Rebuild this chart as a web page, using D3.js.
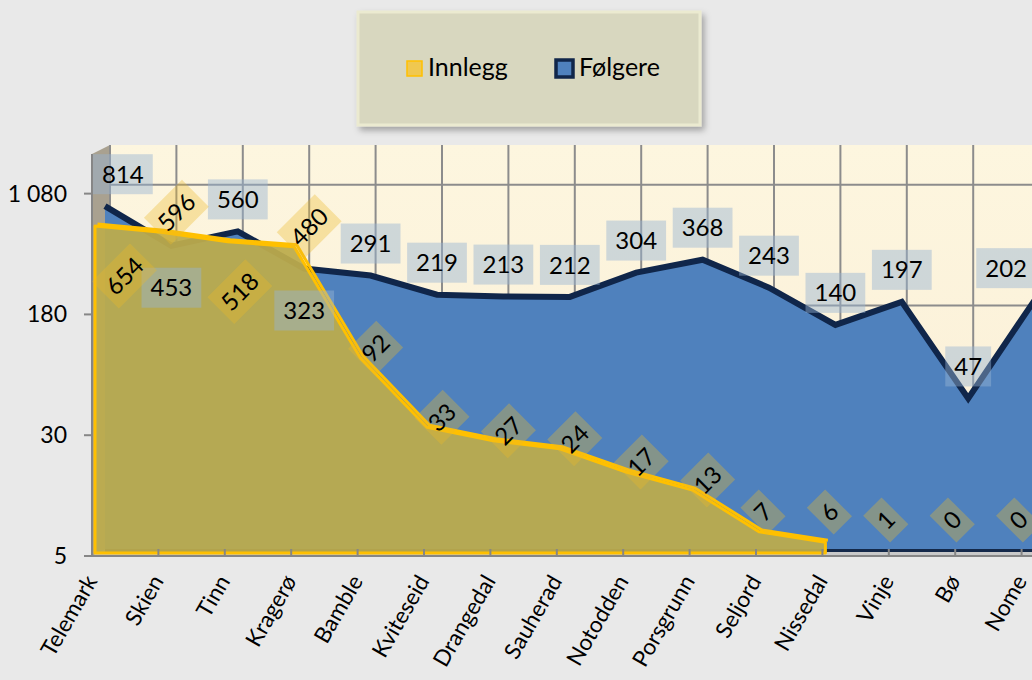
<!DOCTYPE html>
<html>
<head>
<meta charset="utf-8">
<script src="https://cdn.jsdelivr.net/npm/d3@7"></script>
<style>
  body { margin: 0; background: #e9e9e9; }
  svg { display: block; font-family: Lato, "Open Sans", sans-serif; }
</style>
</head>
<body>
<svg id="chart" width="1032" height="680"></svg>
<script>
// data
var categories = ["Telemark", "Skien", "Tinn", "Kragerø", "Bamble", "Kviteseid", "Drangedal",
                  "Sauherad", "Notodden", "Porsgrunn", "Seljord", "Nissedal", "Vinje", "Bø", "Nome"];
var innlegg = [654, 596, 518, 480, 92, 33, 27, 24, 17, 13, 7, 6, 1, 0, 0];
var folgere = [814, 453, 560, 323, 291, 219, 213, 212, 304, 368, 243, 140, 197, 47, 202];
var yTicks = [5, 30, 180, 1080];
var seriesNames = ["Innlegg", "Følgere"];

var W = 1032, H = 680;
var left = 92, floorY = 556, topY = 154;
var step = 66.4;
var back = {dx: 18, dy: -9};   // depth of the back wall
var blueOff = {dx: 13, dy: -6.5};
var yellowOff = {dx: 3, dy: -1.5};

var svg = d3.select("#chart");

var x = d3.scalePoint()
    .domain(categories)
    .range([left, left + step * (categories.length - 1)]);

var y = d3.scaleLog()
    .base(6)
    .domain([5, 1944])
    .range([floorY, topY]);

var fmt = d3.formatLocale({decimal: ",", thousands: "\u00a0", grouping: [3], currency: ["", " kr"]}).format(",d");

var defs = svg.append("defs");
var sh = defs.append("filter").attr("id", "shadow").attr("x", "-10%").attr("y", "-10%").attr("width", "130%").attr("height", "140%");
sh.append("feDropShadow").attr("dx", 3).attr("dy", 4).attr("stdDeviation", 3)
  .attr("flood-color", "#000").attr("flood-opacity", 0.3);
var wallGrad = defs.append("linearGradient").attr("id", "wall").attr("x1", 0).attr("y1", 0).attr("x2", 0).attr("y2", 1);
wallGrad.append("stop").attr("offset", "0%").attr("stop-color", "#fdf6df");
wallGrad.append("stop").attr("offset", "100%").attr("stop-color", "#faeed6");

svg.append("rect").attr("width", W).attr("height", H).attr("fill", "#e9e9e9");

// back wall, side wall, floor
svg.append("rect")
    .attr("x", left + back.dx).attr("y", topY + back.dy)
    .attr("width", W - left).attr("height", floorY - topY)
    .attr("fill", "url(#wall)");

svg.append("polygon")
    .attr("points", [[left, topY], [left + back.dx, topY + back.dy],
                     [left + back.dx, floorY + back.dy], [left, floorY]].join(" "))
    .attr("fill", "#a9a190");

svg.append("polygon")
    .attr("points", [[left, floorY], [left + back.dx, floorY + back.dy],
                     [W + 40, floorY + back.dy], [W + 40, floorY]].join(" "))
    .attr("fill", "#c9c9c9");

// grid on the back wall
var grid = svg.append("g").attr("stroke", "#8c8c8c").attr("stroke-width", 2);
grid.selectAll(".vg").data(categories).enter().append("line")
    .attr("x1", function(d) { return x(d) + back.dx; })
    .attr("x2", function(d) { return x(d) + back.dx; })
    .attr("y1", topY + back.dy).attr("y2", floorY + back.dy);
grid.selectAll(".hg").data(yTicks.slice(1)).enter().append("line")
    .attr("x1", left + back.dx).attr("x2", W + 40)
    .attr("y1", function(d) { return y(d) + back.dy; })
    .attr("y2", function(d) { return y(d) + back.dy; });

// Følgere (back series)
var blueArea = d3.area()
    .x(function(d, i) { return x(categories[i]) + blueOff.dx; })
    .y0(floorY + blueOff.dy)
    .y1(function(d) { return y(d) + blueOff.dy; });
var blueLine = d3.line()
    .x(function(d, i) { return x(categories[i]) + blueOff.dx; })
    .y(function(d) { return y(d) + blueOff.dy; });

svg.append("path").datum(folgere)
    .attr("d", blueArea)
    .attr("fill", "#4f81bd");
svg.append("path").datum(folgere)
    .attr("d", blueLine)
    .attr("fill", "none")
    .attr("stroke", "#10264a")
    .attr("stroke-width", 6)
    .attr("stroke-linejoin", "miter");
svg.append("line")
    .attr("x1", x(categories[0]) + blueOff.dx).attr("x2", W + 20)
    .attr("y1", floorY + blueOff.dy + 1).attr("y2", floorY + blueOff.dy + 1)
    .attr("stroke", "#14294a").attr("stroke-width", 3);

// Innlegg (front series); values under the axis minimum are not drawn
var shown = function(d) { return d >= y.domain()[0]; };
var yLineBack = d3.line()
    .defined(shown)
    .x(function(d, i) { return x(categories[i]) + yellowOff.dx + 2.5; })
    .y(function(d) { return y(d) + yellowOff.dy - 2; });
var yArea = d3.area()
    .defined(shown)
    .x(function(d, i) { return x(categories[i]) + yellowOff.dx; })
    .y0(floorY - 3)
    .y1(function(d) { return y(d) + yellowOff.dy; });

svg.append("path").datum(innlegg)
    .attr("d", yLineBack)
    .attr("fill", "none").attr("stroke", "#ffc000").attr("stroke-width", 3);
svg.append("path").datum(innlegg)
    .attr("d", yArea)
    .attr("fill", "#bcab4c").attr("fill-opacity", 0.94)
    .attr("stroke", "#ffc000").attr("stroke-width", 3)
    .attr("stroke-linejoin", "round");

// front axes
var axisG = svg.append("g").attr("stroke", "#868686").attr("stroke-width", 2);
axisG.append("line").attr("x1", left).attr("x2", left).attr("y1", topY).attr("y2", floorY);
axisG.append("line").attr("x1", left - 7).attr("x2", W).attr("y1", floorY).attr("y2", floorY);
axisG.selectAll(".yt").data(yTicks).enter().append("line")
    .attr("x1", left - 8).attr("x2", left)
    .attr("y1", function(d) { return y(d); }).attr("y2", function(d) { return y(d); });
axisG.selectAll(".xt").data(categories.slice(1)).enter().append("line")
    .attr("x1", function(d) { return x(d); }).attr("x2", function(d) { return x(d); })
    .attr("y1", floorY - 7).attr("y2", floorY);

svg.append("g").selectAll("text").data(yTicks).enter().append("text")
    .attr("x", 67).attr("y", function(d) { return y(d) + 8; })
    .attr("text-anchor", "end")
    .attr("font-size", 23).attr("fill", "#000")
    .text(function(d) { return fmt(d); });

svg.append("g").selectAll("text").data(categories).enter().append("text")
    .attr("transform", function(d) { return "translate(" + (x(d) + 6) + "," + 581 + ") rotate(-60)"; })
    .attr("text-anchor", "end")
    .attr("font-size", 22.5).attr("fill", "#000")
    .text(function(d) { return d; });

// data labels: Følgere boxes
var boxG = svg.append("g");
folgere.forEach(function(v, i) {
    var cx = x(categories[i]) + blueOff.dx;
    var cy = y(v) + blueOff.dy;
    cy = v < innlegg[i] ? cy + 42 : cy - 32;
    var g = boxG.append("g");
    var rect = g.append("rect").attr("fill", "rgb(150,180,210)").attr("fill-opacity", 0.45);
    var t = g.append("text").attr("font-size", 24).attr("text-anchor", "middle")
        .attr("dy", "0.36em").text(v);
    var w = t.node().getComputedTextLength() + 18, h = 40;
    cx = Math.max(left + w / 2 + 1, Math.min(W - w / 2 + 4, cx));
    rect.attr("x", cx - w / 2).attr("y", cy - h / 2).attr("width", w).attr("height", h);
    t.attr("x", cx).attr("y", cy);
});

// data labels: Innlegg diamonds
var diaG = svg.append("g");
innlegg.forEach(function(v, i) {
    var cx = x(categories[i]) + yellowOff.dx;
    var cy;
    if (!shown(v)) { cy = floorY - 36; cx -= 6; }
    else {
        var py = y(v) + yellowOff.dy;
        if (v > folgere[i]) { cy = py - 20; cx += 15; }
        else if (folgere[i] / v < 2) { cy = py + 50; cx += 12; }
        else if (py > floorY - 40) { cy = floorY - 44; cx += 4; }
        else { cy = py - 10; cx += 15; }
    }
    var g = diaG.append("g");
    var rect = g.append("rect").attr("fill", "rgb(235,185,40)").attr("fill-opacity", 0.34);
    var t = g.append("text").attr("font-size", 24).attr("text-anchor", "middle")
        .attr("dy", "0.36em").text(v);
    var w = t.node().getComputedTextLength() + 12, h = 38;
    var half = (w + h) / Math.SQRT2 / 2;
    cx = Math.max(left + half, cx);
    g.attr("transform", "translate(" + cx + "," + cy + ") rotate(-45)");
    rect.attr("x", -w / 2).attr("y", -h / 2).attr("width", w).attr("height", h);
});

// legend
var leg = svg.append("g").attr("transform", "translate(358,12)");
leg.append("rect").attr("width", 342).attr("height", 113)
    .attr("fill", "#d8d7bf").attr("stroke", "#ebead0").attr("stroke-width", 3)
    .attr("filter", "url(#shadow)");
var legItems = [
    {name: seriesNames[0], fill: "#f0c850", stroke: "#ffc000", sw: 1.5, x: 49, size: 15},
    {name: seriesNames[1], fill: "#4f81bd", stroke: "#10264a", sw: 3.5, x: 198, size: 17}
];
legItems.forEach(function(d) {
    leg.append("rect")
        .attr("x", d.x).attr("y", 56 - d.size / 2 + 0.5).attr("width", d.size).attr("height", d.size)
        .attr("fill", d.fill).attr("stroke", d.stroke).attr("stroke-width", d.sw);
    leg.append("text")
        .attr("x", d.x + d.size + 6).attr("y", 64)
        .attr("font-size", 25).attr("fill", "#000")
        .text(d.name);
});
</script>
</body>
</html>
